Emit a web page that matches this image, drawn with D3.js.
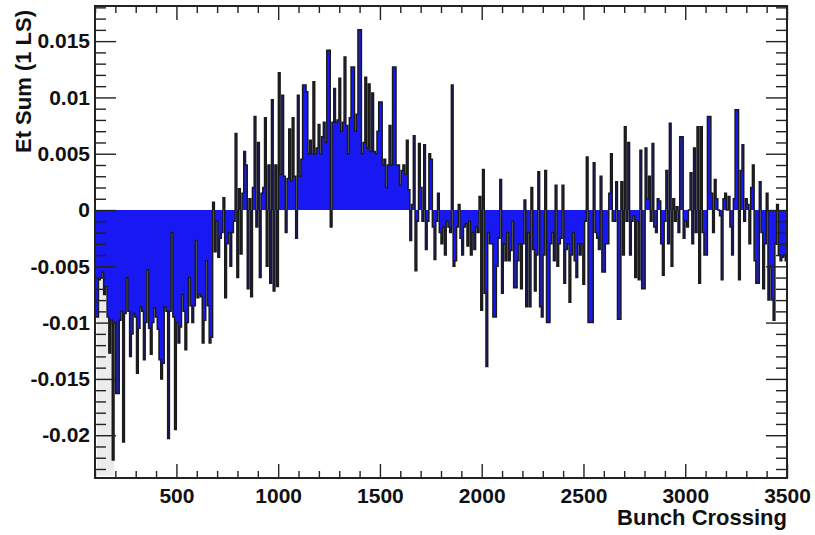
<!DOCTYPE html>
<html>
<head>
<meta charset="utf-8">
<script src="https://cdn.jsdelivr.net/npm/d3@7"></script>
<style>
  html, body { margin: 0; padding: 0; background: #fff; }
  svg { display: block; }
  text { font-family: "Liberation Sans", Arial, Helvetica, sans-serif; font-weight: bold; fill: #111; }
</style>
</head>
<body>
<svg id="chart" width="815" height="535"></svg>
<script>
// ---------------- data ----------------
const binLow = 100;      // first bin lower edge (bunch crossing)
const binWidth = 8.5;    // bunch crossings per bin
const etSum = [
  // 100 - 680
  -0.0095, -0.0095, -0.0062, -0.0060, -0.0055, -0.0075, -0.0068, -0.0095, -0.0127, -0.0098,
  -0.0222, -0.0100, -0.0163, -0.0163, -0.0098, -0.0090, -0.0206, -0.0092, -0.0060, -0.0090,
  -0.0130, -0.0110, -0.0092, -0.0095, -0.0145, -0.0105, -0.0086, -0.0090, -0.0133, -0.0100,
  -0.0053, -0.0105, -0.0128, -0.0100, -0.0087, -0.0095, -0.0106, -0.0133, -0.0150, -0.0136,
  -0.0086, -0.0090, -0.0203, -0.0090, -0.0020, -0.0095, -0.0195, -0.0100, -0.0118, -0.0104,
  -0.0075, -0.0090, -0.0124, -0.0100, -0.0060, -0.0085, -0.0100, -0.0085, -0.0027, -0.0078,
  -0.0075, -0.0077, -0.0118, -0.0098, -0.0045, -0.0085, -0.0118, -0.0113,
  // 680 - 1000
  0.0007, -0.0037, -0.0010, -0.0042, -0.0025, -0.0020, 0.0011, -0.0078, -0.0030, -0.0020,
  -0.0050, -0.0020, -0.0010, 0.0068, -0.0060, 0.0019, -0.0039, 0.0015, 0.0052, 0.0040,
  -0.0070, 0.0010, -0.0077, 0.0020, 0.0083, -0.0015, 0.0060, -0.0060, 0.0015, 0.0020,
  0.0082, -0.0050, 0.0040, -0.0065, 0.0098, -0.0072, 0.0040, -0.0068, 0.0122, 0.0032,
  // 1000 - 1660
  0.0102, 0.0030, -0.0020, 0.0028, 0.0072, 0.0026, 0.0082, 0.0030, -0.0025, 0.0102,
  0.0030, 0.0045, 0.0111, 0.0111, 0.0105, 0.0050, 0.0062, 0.0050, 0.0114, 0.0050,
  0.0055, 0.0076, 0.0050, 0.0065, 0.0078, 0.0060, 0.0142, 0.0142, -0.0015, 0.0078,
  0.0108, 0.0078, 0.0080, 0.0117, 0.0070, 0.0078, 0.0136, 0.0075, 0.0050, 0.0082,
  0.0127, 0.0127, 0.0070, 0.0085, 0.0160, 0.0160, 0.0050, 0.0060, 0.0118, 0.0055,
  0.0112, 0.0052, 0.0104, 0.0052, 0.0050, 0.0070, 0.0096, 0.0096, 0.0040, 0.0045,
  0.0020, 0.0040, 0.0075, 0.0040, 0.0127, 0.0127, 0.0040, 0.0040, 0.0022, 0.0035,
  0.0040, 0.0032, 0.0062, 0.0018,
  // 1660 - 2500
  -0.0027, 0.0005, 0.0066, -0.0054, -0.0010, 0.0059, 0.0020, -0.0010, 0.0058, -0.0035,
  -0.0010, 0.0050, 0.0045, -0.0015, -0.0044, -0.0010, 0.0015, -0.0020, -0.0030, -0.0015,
  -0.0040, -0.0010, -0.0015, -0.0020, 0.0111, -0.0050, -0.0045, -0.0015, 0.0005, -0.0025,
  -0.0040, -0.0015, -0.0012, -0.0032, -0.0010, -0.0040, -0.0020, -0.0035, -0.0015, -0.0020,
  0.0012, -0.0089, 0.0036, -0.0074, -0.0139, -0.0020, -0.0030, -0.0030, -0.0095, -0.0095,
  -0.0050, -0.0025, 0.0027, -0.0074, -0.0030, -0.0045, -0.0020, -0.0045, -0.0036, -0.0010,
  -0.0069, -0.0069, -0.0045, -0.0030, -0.0070, -0.0030, 0.0009, -0.0086, -0.0020, -0.0086,
  0.0020, -0.0035, -0.0072, -0.0040, 0.0034, -0.0086, -0.0095, -0.0040, 0.0035, -0.0100,
  -0.0100, -0.0030, -0.0020, -0.0045, 0.0022, -0.0050, -0.0030, -0.0025, 0.0022, -0.0065,
  -0.0035, -0.0030, -0.0082, -0.0040, -0.0020, -0.0045, -0.0060, -0.0030, -0.0040, -0.0030,
  // 2500 - 3500
  -0.0066, -0.0010, 0.0047, -0.0100, -0.0100, -0.0100, 0.0042, -0.0020, -0.0025, -0.0035,
  0.0030, -0.0055, -0.0055, -0.0030, -0.0030, 0.0015, 0.0050, -0.0010, -0.0010, 0.0025,
  -0.0097, -0.0097, 0.0025, -0.0040, 0.0074, -0.0010, 0.0060, -0.0040, -0.0010, -0.0005,
  -0.0060, -0.0010, -0.0062, 0.0053, -0.0070, -0.0070, 0.0055, 0.0010, 0.0030, -0.0010,
  0.0059, -0.0015, -0.0020, 0.0010, 0.0008, -0.0030, -0.0058, -0.0010, 0.0035, -0.0030,
  0.0077, -0.0050, 0.0010, -0.0010, 0.0003, -0.0020, 0.0065, 0.0065, -0.0025, -0.0010,
  -0.0015, 0.0000, 0.0033, -0.0030, 0.0055, -0.0020, 0.0074, -0.0065, 0.0074, -0.0020,
  -0.0040, -0.0040, 0.0083, 0.0083, 0.0015, -0.0020, 0.0027, 0.0010, 0.0000, -0.0005,
  -0.0062, 0.0010, 0.0015, 0.0000, 0.0012, -0.0015, -0.0040, 0.0010, 0.0089, 0.0089,
  -0.0062, 0.0035, 0.0058, -0.0010, 0.0010, 0.0005, -0.0030, 0.0020, 0.0040, -0.0045,
  -0.0065, -0.0065, 0.0025, -0.0020, -0.0070, -0.0030, 0.0015, -0.0080, -0.0050, -0.0080,
  -0.0098, -0.0030, 0.0005, -0.0040, -0.0045, -0.0042, -0.0040, -0.0045
];
const xDomain = [100, 3500];
const yDomain = [-0.0238, 0.01812];
const xMajorTicks = [500, 1000, 1500, 2000, 2500, 3000, 3500];
const xMajorLabels = ["500", "1000", "1500", "2000", "2500", "3000", "3500"];
const yMajorTicks = [-0.02, -0.015, -0.01, -0.005, 0, 0.005, 0.01, 0.015];
const yMajorLabels = ["-0.02", "-0.015", "-0.01", "-0.005", "0", "0.005", "0.01", "0.015"];
const xTitle = "Bunch Crossing";
const yTitle = "Et Sum (1 LS)";
// shaded band seen at the left edge
const bandX = [110, 195];
const bandY = [-0.0236, -0.005];

// ---------------- layout ----------------
const L = 95, R = 787, T = 6, B = 478;
const svg = d3.select("#chart");
const x = d3.scaleLinear().domain(xDomain).range([L, R]);
const y = d3.scaleLinear().domain(yDomain).range([B, T]);

const xMinor = d3.range(100, 3501, 100).filter(v => v % 500 !== 0);
const yMinor = d3.range(-23, 19, 1).map(v => v / 1000).filter(v => Math.abs(Math.round(v * 1000) % 5) !== 0);

// shaded band
svg.append("rect")
  .attr("x", x(bandX[0])).attr("width", x(bandX[1]) - x(bandX[0]))
  .attr("y", y(bandY[1])).attr("height", y(bandY[0]) - y(bandY[1]))
  .attr("fill", "#ececec");

// histogram
const pts = etSum.map((v, i) => [binLow + i * binWidth, v]);
pts.push([binLow + etSum.length * binWidth, etSum[etSum.length - 1]]);

const area = d3.area()
  .x(d => x(d[0])).y0(y(0)).y1(d => y(d[1]))
  .curve(d3.curveStepAfter);
svg.append("path").datum(pts)
  .attr("d", area)
  .attr("fill", "#1818f2");

const line = d3.line()
  .x(d => x(d[0])).y(d => y(d[1]))
  .curve(d3.curveStepAfter);
svg.append("path").datum(pts)
  .attr("d", line)
  .attr("fill", "none")
  .attr("stroke", "#1a1a1a")
  .attr("stroke-width", 1.5)
  .attr("stroke-linejoin", "miter");

// axes (ROOT style: ticks inside frame on all four sides)
function styleAxis(g) {
  g.select(".domain").remove();
  g.selectAll(".tick line").attr("stroke", "#222").attr("stroke-width", 1.4);
  g.selectAll("text").attr("font-size", 21).attr("fill", "#111")
    .attr("font-family", '"Liberation Sans", Arial, sans-serif').attr("font-weight", "bold");
}

// bottom
svg.append("g").attr("transform", `translate(0,${B})`)
  .call(d3.axisBottom(x).tickValues(xMajorTicks).tickSizeInner(-14).tickSizeOuter(0)
    .tickPadding(0).tickFormat((d, i) => xMajorLabels[i]))
  .call(styleAxis)
  .call(g => g.selectAll("text").attr("dy", null).attr("y", 25));
svg.append("g").attr("transform", `translate(0,${B})`)
  .call(d3.axisBottom(x).tickValues(xMinor).tickSizeInner(-7).tickSizeOuter(0).tickFormat(""))
  .call(styleAxis);
// top
svg.append("g").attr("transform", `translate(0,${T})`)
  .call(d3.axisTop(x).tickValues(xMajorTicks).tickSizeInner(-14).tickSizeOuter(0).tickFormat(""))
  .call(styleAxis);
svg.append("g").attr("transform", `translate(0,${T})`)
  .call(d3.axisTop(x).tickValues(xMinor).tickSizeInner(-7).tickSizeOuter(0).tickFormat(""))
  .call(styleAxis);
// left
svg.append("g").attr("transform", `translate(${L},0)`)
  .call(d3.axisLeft(y).tickValues(yMajorTicks).tickSizeInner(-21).tickSizeOuter(0)
    .tickPadding(5).tickFormat((d, i) => yMajorLabels[i]))
  .call(styleAxis);
svg.append("g").attr("transform", `translate(${L},0)`)
  .call(d3.axisLeft(y).tickValues(yMinor).tickSizeInner(-11).tickSizeOuter(0).tickFormat(""))
  .call(styleAxis);
// right
svg.append("g").attr("transform", `translate(${R},0)`)
  .call(d3.axisRight(y).tickValues(yMajorTicks).tickSizeInner(-21).tickSizeOuter(0).tickFormat(""))
  .call(styleAxis);
svg.append("g").attr("transform", `translate(${R},0)`)
  .call(d3.axisRight(y).tickValues(yMinor).tickSizeInner(-11).tickSizeOuter(0).tickFormat(""))
  .call(styleAxis);

// frame
svg.append("rect")
  .attr("x", L).attr("y", T).attr("width", R - L).attr("height", B - T)
  .attr("fill", "none").attr("stroke", "#222").attr("stroke-width", 2);

// titles
svg.append("text")
  .attr("x", R).attr("y", 525)
  .attr("text-anchor", "end")
  .attr("font-size", 22)
  .text(xTitle);
svg.append("text")
  .attr("transform", `translate(31,${T + 4}) rotate(-90)`)
  .attr("text-anchor", "end")
  .attr("font-size", 22)
  .text(yTitle);
</script>
</body>
</html>
